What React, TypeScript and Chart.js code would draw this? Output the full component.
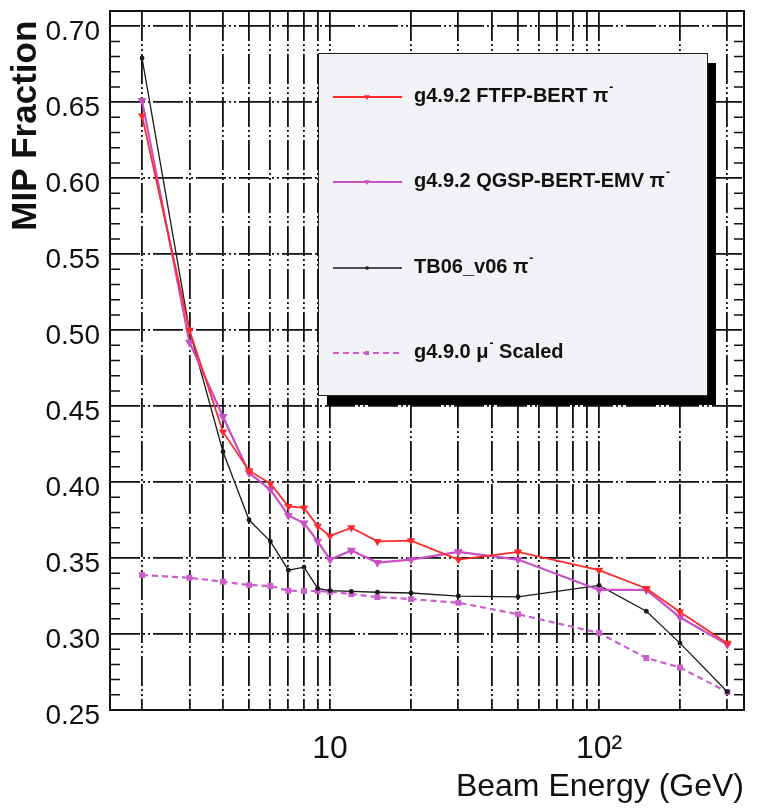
import React, { useEffect, useRef } from 'react';
import { Chart, registerables } from 'chart.js';

Chart.register(...registerables);

const FONT = '"Liberation Sans", Arial, Helvetica, sans-serif';

// Beam energies (GeV)
const energies = [2, 3, 4, 5, 6, 7, 8, 9, 10, 12, 15, 20, 30, 50, 100, 150, 200, 300];

// MIP fractions
const ftfpBert = [0.641, 0.5, 0.433, 0.4075, 0.399, 0.384, 0.383, 0.371, 0.3645, 0.37, 0.361, 0.3615, 0.349, 0.354, 0.342, 0.33, 0.3145, 0.294];
const qgspBertEmv = [0.651, 0.492, 0.443, 0.406, 0.395, 0.378, 0.373, 0.361, 0.349, 0.355, 0.347, 0.349, 0.354, 0.349, 0.329, 0.329, 0.311, 0.293];
const tb06 = [0.679, 0.5, 0.42, 0.375, 0.361, 0.342, 0.344, 0.33, 0.3285, 0.328, 0.3275, 0.327, 0.325, 0.3245, 0.332, 0.315, 0.294, 0.262];
const muonScaled = [0.3388, 0.337, 0.3344, 0.3322, 0.3316, 0.3285, 0.3283, 0.3283, 0.3278, 0.3263, 0.3243, 0.323, 0.3206, 0.313, 0.3007, 0.2842, 0.278, 0.2618];

const seriesLabels = ['g4.9.2 FTFP-BERT π⁻', 'g4.9.2 QGSP-BERT-EMV π⁻', 'TB06_v06 π⁻', 'g4.9.0 μ⁻ Scaled'];

// Axis ticks
const xGridValues = [2, 3, 4, 5, 6, 7, 8, 9, 10, 20, 30, 40, 50, 60, 70, 80, 90, 100, 200, 300];
const xTickLabels: Record<number, string> = { 10: '10', 100: '10²' };
const yTickValues = [0.25, 0.3, 0.35, 0.4, 0.45, 0.5, 0.55, 0.6, 0.65, 0.7];
const yMinorValues = [
  0.26, 0.27, 0.28, 0.29, 0.31, 0.32, 0.33, 0.34, 0.36, 0.37, 0.38, 0.39, 0.41, 0.42, 0.43, 0.44,
  0.46, 0.47, 0.48, 0.49, 0.51, 0.52, 0.53, 0.54, 0.56, 0.57, 0.58, 0.59, 0.61, 0.62, 0.63, 0.64,
  0.66, 0.67, 0.68, 0.69, 0.71,
];

const toPoints = (ys: number[]) => energies.map((e, i) => ({ x: e, y: ys[i] }));

function drawMarker(ctx: CanvasRenderingContext2D, style: string, x: number, y: number, r: number, color: string) {
  ctx.save();
  ctx.fillStyle = color;
  ctx.strokeStyle = color;
  ctx.setLineDash([]);
  ctx.beginPath();
  if (style === 'triangle') {
    ctx.moveTo(x - r, y - r * 0.6);
    ctx.lineTo(x + r, y - r * 0.6);
    ctx.lineTo(x, y + r);
    ctx.closePath();
  } else if (style === 'rect') {
    ctx.rect(x - r * 0.8, y - r * 0.8, r * 1.6, r * 1.6);
  } else {
    ctx.arc(x, y, r, 0, Math.PI * 2);
  }
  ctx.fill();
  ctx.restore();
}

function drawRich(ctx: CanvasRenderingContext2D, text: string, x: number, y: number, size: number) {
  let cx = x;
  for (const part of text.split(/(⁻)/)) {
    if (!part) continue;
    if (part === '⁻') {
      ctx.font = `bold ${Math.round(size * 0.6)}px ${FONT}`;
      ctx.fillText('-', cx + 1, y - size * 0.42);
      cx += ctx.measureText('-').width + 1;
    } else {
      ctx.font = `bold ${size}px ${FONT}`;
      ctx.fillText(part, cx, y);
      cx += ctx.measureText(part).width;
    }
  }
}

const framePlugin = {
  id: 'frameAndMinor',
  beforeDatasetsDraw(chart: any) {
    const { ctx, chartArea: a, scales } = chart;
    const y = scales.y;
    ctx.save();
    ctx.strokeStyle = '#111';
    ctx.lineWidth = 1.5;
    ctx.setLineDash([]);
    ctx.beginPath();
    for (const v of yMinorValues) {
      const py = y.getPixelForValue(v);
      ctx.moveTo(a.left, py);
      ctx.lineTo(a.left + 10, py);
      ctx.moveTo(a.right, py);
      ctx.lineTo(a.right - 10, py);
    }
    ctx.stroke();
    ctx.lineWidth = 2;
    ctx.strokeRect(a.left, a.top, a.right - a.left, a.bottom - a.top);
    ctx.restore();
  },
};

const legendPlugin = {
  id: 'boxLegend',
  afterDatasetsDraw(chart: any) {
    const { ctx } = chart;
    const x0 = 318, y0 = 53, x1 = 707, y1 = 395;
    ctx.save();
    ctx.fillStyle = '#000';
    ctx.fillRect(x0 + 9, y0 + 10, x1 - x0, y1 - y0);
    ctx.fillStyle = '#f2f3f6';
    ctx.fillRect(x0, y0, x1 - x0, y1 - y0);
    ctx.strokeStyle = '#222';
    ctx.lineWidth = 1;
    ctx.strokeRect(x0 + 0.5, y0 + 0.5, x1 - x0, y1 - y0);
    const rows = [97, 182, 268, 353];
    chart.data.datasets.forEach((ds: any, i: number) => {
      const ly = rows[i];
      ctx.save();
      ctx.strokeStyle = ds.borderColor;
      ctx.lineWidth = ds.borderWidth;
      ctx.setLineDash(ds.borderDash || []);
      ctx.beginPath();
      ctx.moveTo(333, ly);
      ctx.lineTo(402, ly);
      ctx.stroke();
      ctx.restore();
      drawMarker(ctx, ds.pointStyle, 367, ly, ds.pointRadius, ds.borderColor);
      ctx.fillStyle = '#111';
      ctx.textBaseline = 'middle';
      ctx.textAlign = 'left';
      drawRich(ctx, ds.label, 414, ly - 1, 20);
    });
    ctx.restore();
  },
};

export default function App() {
  const ref = useRef<HTMLCanvasElement>(null);
  useEffect(() => {
    const canvas = ref.current!;
    const gridDash = [30, 3, 2, 3, 2, 3];
    const chart = new Chart(canvas, {
      type: 'line',
      data: {
        datasets: [
          {
            label: seriesLabels[0],
            data: toPoints(ftfpBert),
            borderColor: '#ff2a2a',
            backgroundColor: '#ff2a2a',
            borderWidth: 1.8,
            pointStyle: 'triangle',
            pointRotation: 180,
            pointRadius: 3,
            tension: 0,
          },
          {
            label: seriesLabels[1],
            data: toPoints(qgspBertEmv),
            borderColor: '#c84fc4',
            backgroundColor: '#c84fc4',
            borderWidth: 2.2,
            pointStyle: 'triangle',
            pointRotation: 180,
            pointRadius: 3,
            tension: 0,
          },
          {
            label: seriesLabels[2],
            data: toPoints(tb06),
            borderColor: '#1a1a1a',
            backgroundColor: '#1a1a1a',
            borderWidth: 1.3,
            pointStyle: 'circle',
            pointRadius: 1.8,
            tension: 0,
          },
          {
            label: seriesLabels[3],
            data: toPoints(muonScaled),
            borderColor: '#cc5fcc',
            backgroundColor: '#cc5fcc',
            borderWidth: 2.2,
            borderDash: [6, 4],
            pointStyle: 'rect',
            pointRadius: 2.6,
            tension: 0,
          },
        ] as any,
      },
      options: {
        responsive: false,
        animation: false,
        devicePixelRatio: 1,
        layout: { padding: { left: 0, right: 13, top: 11, bottom: 0 } },
        plugins: { legend: { display: false }, tooltip: { enabled: false } },
        scales: {
          x: {
            type: 'logarithmic',
            min: 1.52,
            max: 346,
            afterBuildTicks: (s: any) => {
              s.ticks = xGridValues.map((v) => ({ value: v }));
            },
            afterFit: (s: any) => {
              s.height = 99;
              s.paddingLeft = 0;
              s.paddingRight = 0;
            },
            grid: { color: '#111', lineWidth: 1.8, drawTicks: false },
            border: { display: false, dash: gridDash },
            ticks: {
              autoSkip: false,
              maxRotation: 0,
              color: '#111',
              padding: 20,
              font: { family: FONT, size: 32 },
              callback: (v: any) => xTickLabels[Number(v)] ?? '',
            },
            title: {
              display: true,
              text: 'Beam Energy (GeV)',
              align: 'end',
              color: '#111',
              font: { family: FONT, size: 32 },
              padding: { top: 0, bottom: 3 },
            },
          },
          y: {
            type: 'linear',
            min: 0.25,
            max: 0.71,
            afterBuildTicks: (s: any) => {
              s.ticks = yTickValues.map((v) => ({ value: v }));
            },
            afterFit: (s: any) => {
              s.width = 110;
              s.paddingTop = 0;
              s.paddingBottom = 0;
            },
            grid: { color: '#111', lineWidth: 1.8, drawTicks: false },
            border: { display: false, dash: gridDash },
            ticks: {
              color: '#111',
              padding: 10,
              labelOffset: 6,
              font: { family: FONT, size: 28 },
              callback: (v: any) => Number(v).toFixed(2),
            },
            title: {
              display: true,
              text: 'MIP Fraction ',
              align: 'end',
              color: '#111',
              font: { family: FONT, size: 35, weight: 'bold' },
              padding: { top: 5, bottom: 0 },
            },
          },
        },
      } as any,
      plugins: [framePlugin, legendPlugin],
    });
    return () => chart.destroy();
  }, []);
  return (
    <canvas
      ref={ref}
      width={757}
      height={809}
      style={{ position: 'absolute', left: 0, top: 0, width: 757, height: 809 }}
    />
  );
}
